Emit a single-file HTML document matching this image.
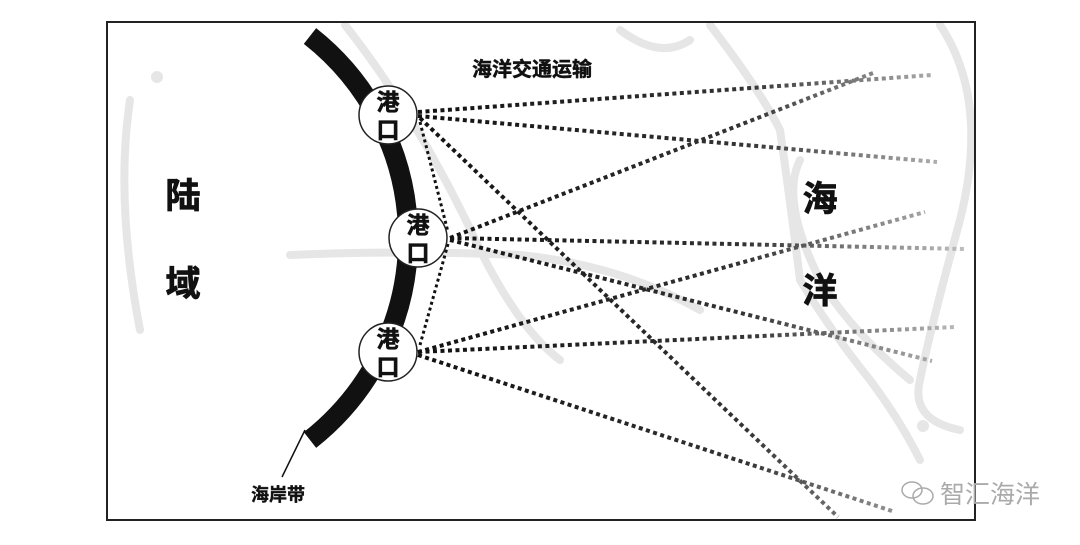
<!DOCTYPE html>
<html><head><meta charset="utf-8"><style>
body{margin:0;background:#fff;}
svg text{font-family:"Liberation Sans","Noto Sans CJK SC",sans-serif;}
</style></head><body>
<svg width="1080" height="540" viewBox="0 0 1080 540" xmlns="http://www.w3.org/2000/svg">
<defs>
<linearGradient id="fade" gradientUnits="userSpaceOnUse" x1="420" y1="0" x2="960" y2="0">
<stop offset="0" stop-color="#111"/><stop offset="0.6" stop-color="#333"/><stop offset="1" stop-color="#bbb"/>
</linearGradient>
</defs>
<rect x="0" y="0" width="1080" height="540" fill="#fff"/>
<g fill="none" stroke="#e6e6e6" stroke-width="8" stroke-linecap="round">
<path d="M345 25 Q420 120 480 250 Q520 330 560 360"/>
<path d="M710 25 Q760 90 780 130 Q790 200 800 280 Q830 330 870 380 Q900 420 920 460"/>
<path d="M800 160 Q780 200 820 280 Q850 330 910 380"/>
<path d="M290 255 Q400 250 520 255 Q620 265 700 310"/>
<path d="M940 25 Q990 100 960 220 Q930 330 920 380 Q910 420 960 430"/>
<path d="M130 100 Q115 200 140 330"/>
<path d="M620 30 Q660 60 690 40"/>
</g>
<circle cx="157" cy="77" r="6" fill="#e6e6e6"/>
<circle cx="923" cy="426" r="6" fill="#e6e6e6"/>
<rect x="107" y="22" width="868" height="498" fill="none" stroke="#222" stroke-width="2"/>
<path d="M310 36 A257 257 0 0 1 310 440" fill="none" stroke="#111" stroke-width="20"/>
<line x1="305" y1="430" x2="282" y2="477" stroke="#111" stroke-width="1.5"/>
<g fill="none" stroke="url(#fade)" stroke-width="4" stroke-dasharray="4,3.5">
<line x1="418" y1="112" x2="932" y2="75"/>
<line x1="418" y1="116" x2="937" y2="162"/>
<line x1="420" y1="118" x2="838" y2="517"/>
<line x1="450" y1="238" x2="873" y2="73"/>
<line x1="450" y1="238" x2="965" y2="249"/>
<line x1="450" y1="240" x2="932" y2="361"/>
<line x1="418" y1="352" x2="925" y2="212"/>
<line x1="418" y1="352" x2="955" y2="327"/>
<line x1="418" y1="355" x2="895" y2="512"/>
</g>
<g fill="none" stroke="#111" stroke-width="3" stroke-dasharray="3,3">
<line x1="420" y1="122" x2="448" y2="232"/>
<line x1="448" y1="244" x2="420" y2="345"/>
</g>
<g fill="#fff" stroke="#222" stroke-width="1.5">
<circle cx="388" cy="115" r="29"/>
<circle cx="418" cy="238" r="29"/>
<circle cx="388" cy="352" r="29"/>
</g>
<g font-size="23" font-weight="bold" fill="#111" text-anchor="middle" stroke="#111" stroke-width="0.6">
<text x="388" y="110">港</text><text x="388" y="138">口</text>
<text x="418" y="233">港</text><text x="418" y="261">口</text>
<text x="388" y="347">港</text><text x="388" y="375">口</text>
</g>
<text x="532" y="76" font-size="20" font-weight="bold" fill="#111" stroke="#111" stroke-width="0.5" text-anchor="middle">海洋交通运输</text>
<g font-size="35" font-weight="bold" fill="#111" text-anchor="middle" stroke="#111" stroke-width="0.8">
<text x="183" y="208">陆</text><text x="183" y="296">域</text>
<text x="820" y="211">海</text><text x="820" y="303">洋</text>
</g>
<text x="278" y="501" font-size="18" font-weight="bold" fill="#111" stroke="#111" stroke-width="0.4" text-anchor="middle">海岸带</text>
<text x="940" y="503" font-size="25" fill="#aaa">智汇海洋</text>
<g fill="none" stroke="#aaa" stroke-width="1.5">
<ellipse cx="912" cy="490" rx="10" ry="8"/><ellipse cx="923" cy="496" rx="10" ry="8"/>
</g>
</svg>
</body></html>
